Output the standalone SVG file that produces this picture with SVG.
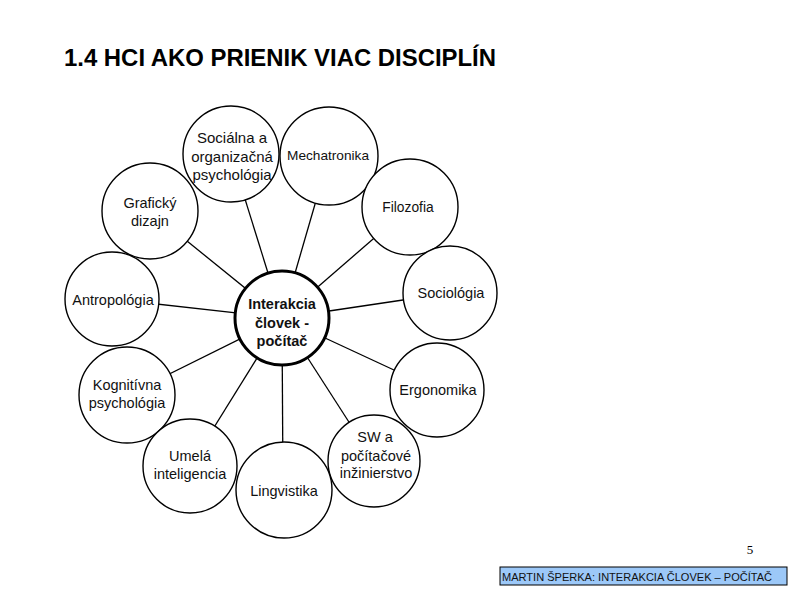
<svg xmlns="http://www.w3.org/2000/svg" width="794" height="595" viewBox="0 0 794 595">
<style>
  .c { fill: #fff; stroke: #000; stroke-width: 1.4; }
  .hub { fill: #fff; stroke: #000; stroke-width: 3; }
  .t { font-family: "Liberation Sans", Arial, sans-serif; font-size: 14.5px; fill: #111; text-anchor: middle; }
  .b { font-weight: bold; }
  .e line { stroke: #000; stroke-width: 1.3; }
</style>
<rect width="794" height="595" fill="#fff"/>
<text x="64" y="66" font-family="Liberation Sans, Arial, sans-serif" font-weight="bold" font-size="23" textLength="432" lengthAdjust="spacingAndGlyphs">1.4 HCI AKO PRIENIK VIAC DISCIPLÍN</text>
<g id="connectors" class="e">
  <line x1="282" y1="318" x2="231" y2="154"/>
  <line x1="282" y1="318" x2="329" y2="156"/>
  <line x1="282" y1="318" x2="410" y2="207"/>
  <line x1="282" y1="318" x2="150" y2="211"/>
  <line x1="282" y1="318" x2="112" y2="299"/>
  <line x1="282" y1="318" x2="450" y2="293"/>
  <line x1="282" y1="318" x2="127" y2="395"/>
  <line x1="282" y1="318" x2="437" y2="390"/>
  <line x1="282" y1="318" x2="190" y2="466"/>
  <line x1="282" y1="318" x2="283" y2="490"/>
  <line x1="282" y1="318" x2="374" y2="461"/>
</g>
<g id="n-socialna">
  <circle class="c" cx="231" cy="154" r="48"/>
  <text class="t" style="font-size:15px" x="232" y="143">Sociálna a</text>
  <text class="t" style="font-size:15px" x="232" y="162">organizačná</text>
  <text class="t" style="font-size:15px" x="232" y="180">psychológia</text>
</g>
<g id="n-mechatronika">
  <circle class="c" cx="329" cy="156" r="49"/>
  <text class="t" style="font-size:13px" x="328" y="160" textLength="82" lengthAdjust="spacingAndGlyphs">Mechatronika</text>
</g>
<g id="n-filozofia">
  <circle class="c" cx="410" cy="207" r="48"/>
  <text class="t" style="font-size:13.8px" x="408" y="212">Filozofia</text>
</g>
<g id="n-graficky">
  <circle class="c" cx="150" cy="211" r="48"/>
  <text class="t" x="150" y="208">Grafický</text>
  <text class="t" x="150" y="226">dizajn</text>
</g>
<g id="n-antropologia">
  <circle class="c" cx="112" cy="299" r="47"/>
  <text class="t" x="113" y="305">Antropológia</text>
</g>
<g id="n-sociologia">
  <circle class="c" cx="450" cy="293" r="47"/>
  <text class="t" x="451" y="298">Sociológia</text>
</g>
<g id="n-kognitivna">
  <circle class="c" cx="127" cy="395" r="48"/>
  <text class="t" x="127" y="390">Kognitívna</text>
  <text class="t" x="127" y="408">psychológia</text>
</g>
<g id="n-ergonomika">
  <circle class="c" cx="437" cy="390" r="47"/>
  <text class="t" x="438" y="395">Ergonomika</text>
</g>
<g id="n-umela">
  <circle class="c" cx="190" cy="466" r="47"/>
  <text class="t" x="190" y="461">Umelá</text>
  <text class="t" x="190" y="479">inteligencia</text>
</g>
<g id="n-sw">
  <circle class="c" cx="374" cy="461" r="46"/>
  <text class="t" x="375" y="442">SW a</text>
  <text class="t" x="376" y="461">počítačové</text>
  <text class="t" x="376" y="478">inžinierstvo</text>
</g>
<g id="n-lingvistika">
  <circle class="c" cx="284" cy="490" r="48"/>
  <text class="t" x="284" y="496">Lingvistika</text>
</g>
<g id="n-hci">
  <circle class="hub" cx="282" cy="318" r="47"/>
  <text class="t b" x="282" y="309">Interakcia</text>
  <text class="t b" x="282" y="328">človek -</text>
  <text class="t b" x="282" y="346">počítač</text>
</g>
<text x="750" y="554" font-family="Liberation Serif, Times New Roman, serif" font-size="13" text-anchor="middle">5</text>
<g id="footer">
  <rect x="500" y="567" width="287" height="18" fill="#9CC8F8" stroke="#000" stroke-width="1"/>
  <text x="502" y="581" font-family="Liberation Sans, Arial, sans-serif" font-size="10.5" textLength="270" lengthAdjust="spacingAndGlyphs" fill="#111">MARTIN ŠPERKA: INTERAKCIA ČLOVEK – POČÍTAČ</text>
</g>
</svg>
